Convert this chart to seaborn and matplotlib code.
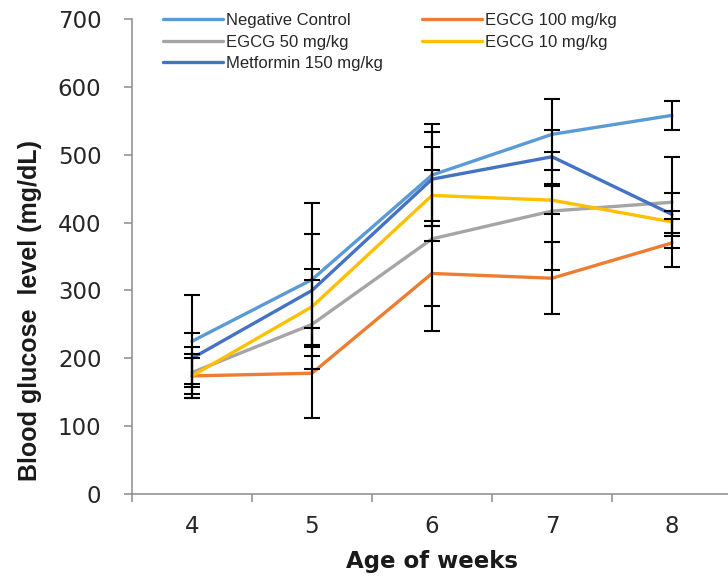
import numpy as np
import pandas as pd
import matplotlib
matplotlib.use("Agg")
import matplotlib.pyplot as plt
import seaborn as sns

# Weekly blood glucose (mg/dL), mean and SD per treatment group
weeks = [4, 5, 6, 7, 8]
groups = ["Negative Control", "EGCG 50 mg/kg", "Metformin 150 mg/kg",
          "EGCG 100 mg/kg", "EGCG 10 mg/kg"]

negative_control = [225, 316, 470, 530, 558]
egcg_50 = [179, 250, 376, 417, 430]
metformin_150 = [200, 300, 464, 497, 412]
egcg_100 = [174, 178, 325, 318, 370]
egcg_10 = [174, 276, 440, 433, 401]

sd_negative_control = [68, 113, 75, 52, 21]
sd_egcg_50 = [38, 66, 136, 87, 67]
sd_metformin_150 = [38, 83, 69, 40, 32]
sd_egcg_100 = [33, 66, 48, 53, 36]
sd_egcg_10 = [27, 56, 37, 21, 16]

colors = {
    "Negative Control": "#5B9BD5",
    "EGCG 50 mg/kg": "#A5A5A5",
    "Metformin 150 mg/kg": "#4472C4",
    "EGCG 100 mg/kg": "#ED7D31",
    "EGCG 10 mg/kg": "#FFC000",
}

means = [negative_control, egcg_50, metformin_150, egcg_100, egcg_10]
sds = [sd_negative_control, sd_egcg_50, sd_metformin_150, sd_egcg_100, sd_egcg_10]

df = pd.DataFrame({
    "week": np.tile(weeks, len(groups)),
    "glucose": np.concatenate(means),
    "sd": np.concatenate(sds),
    "group": np.repeat(groups, len(weeks)),
})

sns.set_theme(style="white")
plt.rcParams["font.family"] = ["DejaVu Sans"]

fig = plt.figure(figsize=(7.28, 5.78), dpi=100)
ax = fig.add_axes([132 / 728, 84 / 578, 600 / 728, 475 / 578])

sns.lineplot(data=df, x="week", y="glucose", hue="group", hue_order=groups,
             palette=colors, linewidth=2.4, ax=ax, legend=True, zorder=2)

ax.errorbar(df["week"], df["glucose"], yerr=df["sd"], fmt="none",
            ecolor="black", elinewidth=1.5, capsize=5.5, capthick=1.5, zorder=3)

axis_gray = "#8C8C8C"
ax.set_xlim(3.5, 8.5)
ax.set_ylim(0, 700)
ax.set_yticks(range(0, 701, 100))
ax.set_xticks(weeks)
ax.set_xticks(np.arange(3.5, 8.6, 1.0), minor=True)
ax.tick_params(axis="x", which="major", length=0, pad=15, labelsize=16.5,
               labelcolor="#262626")
ax.tick_params(axis="x", which="minor", length=6, width=1.1, color=axis_gray,
               direction="out", bottom=True)
ax.tick_params(axis="y", length=6, width=1.1, color=axis_gray, direction="out",
               left=True, pad=16, labelsize=16.5, labelcolor="#262626")

for side in ["top", "right"]:
    ax.spines[side].set_visible(False)
for side in ["left", "bottom"]:
    ax.spines[side].set_color(axis_gray)
    ax.spines[side].set_linewidth(1.1)

ax.set_xlabel("Age of weeks", fontsize=16.5, fontweight="bold", labelpad=9,
              color="#1a1a1a")
ax.set_ylabel("Blood glucose  level (mg/dL)", fontsize=18, fontweight="bold",
              family="Liberation Sans", color="#1a1a1a")
ax.yaxis.set_label_coords(-90 / 600, 0.387)

handles, labels = ax.get_legend_handles_labels()
leg = ax.legend(handles, labels, ncol=2, loc="upper left",
                bbox_to_anchor=(163 / 728, 1 - 13 / 578),
                bbox_transform=fig.transFigure, frameon=False,
                prop={"family": "Liberation Sans", "size": 12},
                handlelength=3.6, handletextpad=0.2, columnspacing=2.3,
                labelspacing=0.4, borderpad=0, borderaxespad=0)
for line in leg.get_lines():
    line.set_linewidth(2.4)

fig.savefig("out.png", dpi=100)
